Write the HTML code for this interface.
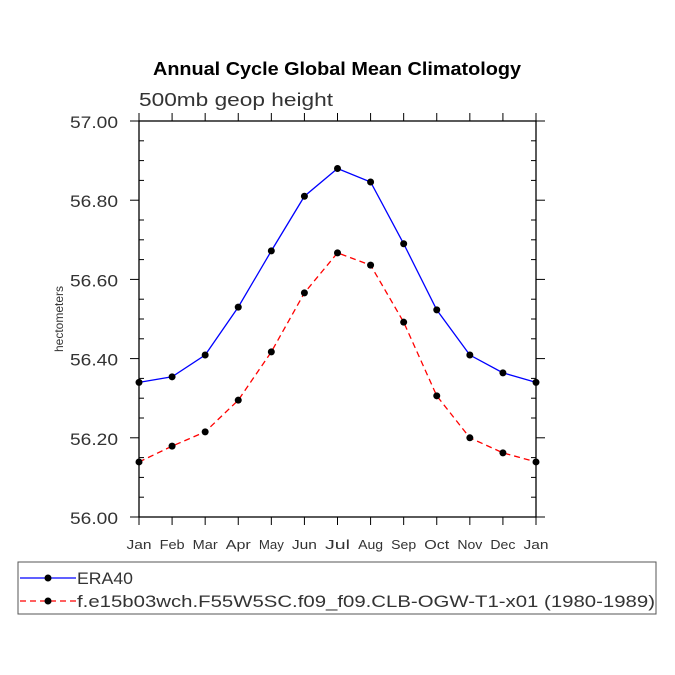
<!DOCTYPE html>
<html><head><meta charset="utf-8"><style>body{margin:0;background:#fff}svg{display:block}text{font-family:"Liberation Sans","DejaVu Sans",sans-serif}</style></head>
<body>
<svg id="c" width="675" height="675" viewBox="0 0 675 675">
<text x="153" y="75" textLength="368" lengthAdjust="spacingAndGlyphs" font-size="18" font-weight="bold">Annual Cycle Global Mean Climatology</text>
<text x="139" y="106" textLength="194" lengthAdjust="spacingAndGlyphs" font-size="18" fill="#333">500mb geop height</text>
<text transform="translate(63,319) rotate(-90)" text-anchor="middle" font-size="12" fill="#333">hectometers</text>
<g id="axes"></g><g id="series"></g>
<rect x="18" y="562" width="638" height="52" fill="none" stroke="#555"/>
<g>
<line x1="20" y1="578" x2="76" y2="578" stroke="#00f" stroke-width="1.3"/><circle cx="48" cy="578" r="3.5"/>
<text x="77" y="584" textLength="56" lengthAdjust="spacingAndGlyphs" font-size="17" fill="#333">ERA40</text></g>
<g>
<line x1="20" y1="601" x2="76" y2="601" stroke="#f00" stroke-width="1.3" stroke-dasharray="6,4"/><circle cx="48" cy="601" r="3.5"/>
<text x="77" y="607" textLength="578" lengthAdjust="spacingAndGlyphs" font-size="17" fill="#333">f.e15b03wch.F55W5SC.f09_f09.CLB-OGW-T1-x01 (1980-1989)</text></g>
</svg>
<script>
const months=["Jan","Feb","Mar","Apr","May","Jun","Jul","Aug","Sep","Oct","Nov","Dec","Jan"];
const era40=[56.34,56.354,56.409,56.53,56.672,56.81,56.88,56.846,56.69,56.523,56.409,56.364,56.34];
const model=[56.139,56.179,56.215,56.295,56.417,56.566,56.667,56.636,56.492,56.306,56.2,56.162,56.139];
const yTicks=["56.00","56.20","56.40","56.60","56.80","57.00"];
const NS="http://www.w3.org/2000/svg";
const L=139,R=536,T=121,B=517,ymin=56,ymax=57;
const xs=i=>L+(R-L)*i/(months.length-1);
const ys=v=>B-(v-ymin)/(ymax-ymin)*(B-T);
function mk(t,a,p){const e=document.createElementNS(NS,t);for(const k in a)e.setAttribute(k,a[k]);p.appendChild(e);return e;}
const ax=document.getElementById('axes');
const frame=mk('rect',{x:L,y:T,width:R-L,height:B-T,fill:'none',stroke:'#000','stroke-width':1.3},ax);


months.forEach((m,i)=>{const x=xs(i);
mk('line',{x1:x,y1:B,x2:x,y2:B+8,stroke:'#000'},ax);
mk('line',{x1:x,y1:T,x2:x,y2:T-8,stroke:'#000'},ax);
const t=mk('text',{x:x,y:B+32,'text-anchor':'middle','font-size':13,fill:'#333',textLength:25,lengthAdjust:'spacingAndGlyphs'},ax);t.textContent=m;

});
for(let v=0;v<=20;v++){const y=ys(ymin+v*0.05);if(v%4===0)continue;
mk('line',{x1:L,y1:y,x2:L+5,y2:y,stroke:'#000'},ax);mk('line',{x1:R,y1:y,x2:R-5,y2:y,stroke:'#000'},ax);}
yTicks.forEach(s=>{const y=ys(parseFloat(s));
mk('line',{x1:L,y1:y,x2:L-9,y2:y,stroke:'#000'},ax);mk('line',{x1:R,y1:y,x2:R+9,y2:y,stroke:'#000'},ax);
const t=mk('text',{x:70,y:y+7,'font-size':17,fill:'#333',textLength:48,lengthAdjust:'spacingAndGlyphs'},ax);t.textContent=s;

});
const sg=document.getElementById('series');
function draw(vals,color,dash,name){
const g=mk('g',{},sg);


mk('polyline',{points:vals.map((v,i)=>xs(i)+','+ys(v)).join(' '),fill:'none',stroke:color,'stroke-width':1.3,'stroke-dasharray':dash},g);
vals.forEach((v,i)=>{const c=mk('circle',{cx:xs(i),cy:ys(v),r:3.5,fill:'#000'},g);

});}
draw(era40,'#00f','none','series-era40');
draw(model,'#f00','6,4','series-model');
</script>
</body></html>
